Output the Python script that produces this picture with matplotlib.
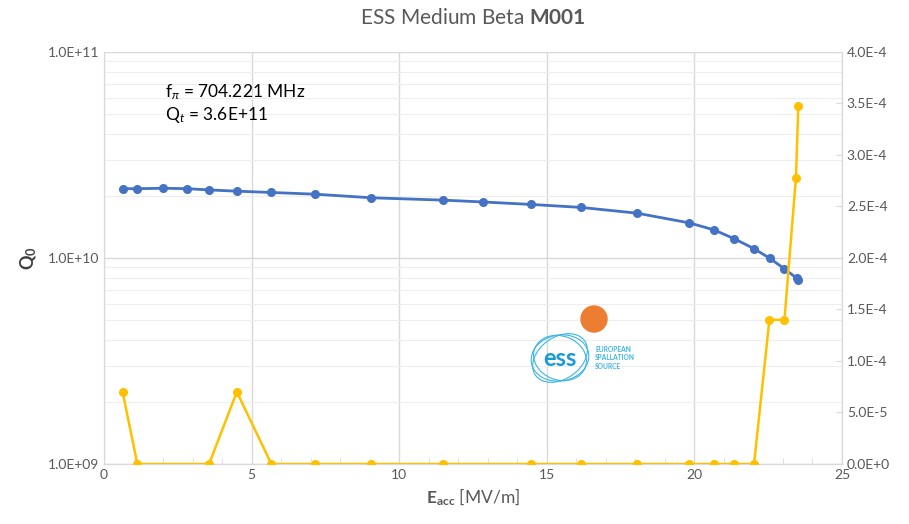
import matplotlib
matplotlib.use("Agg")
import matplotlib.pyplot as plt
import numpy as np
from matplotlib.patches import Circle, Ellipse
from matplotlib.ticker import FixedLocator, FixedFormatter, LogLocator, NullFormatter, MultipleLocator

plt.rcParams['font.family'] = ['Lato', 'DejaVu Sans']
plt.rcParams['mathtext.fontset'] = 'custom'
plt.rcParams['mathtext.rm'] = 'Lato'
plt.rcParams['mathtext.it'] = 'Lato:italic'
plt.rcParams['mathtext.bf'] = 'Lato:bold'

# Q0 vs Eacc
eacc_q0 = [0.63, 1.12, 2.01, 2.82, 3.56, 4.50, 5.67, 7.16, 9.05, 11.47, 12.85,
           14.46, 16.16, 18.06, 19.83, 20.66, 21.35, 22.02, 22.55, 23.04, 23.47, 23.51]
q0 = [2.17e10, 2.17e10, 2.18e10, 2.17e10, 2.14e10, 2.11e10, 2.08e10, 2.04e10, 1.96e10,
      1.91e10, 1.87e10, 1.82e10, 1.76e10, 1.65e10, 1.48e10, 1.37e10, 1.24e10, 1.11e10,
      9.97e9, 8.88e9, 7.97e9, 7.84e9]

# radiation vs Eacc (right axis)
eacc_rad = [0.63, 1.13, 3.56, 4.50, 5.67, 7.16, 9.05, 11.47, 14.46, 16.16, 18.06,
            19.83, 20.66, 21.35, 22.02, 22.54, 23.05, 23.44, 23.52]
rad = [7.0e-5, 0, 0, 7.0e-5, 0, 0, 0, 0, 0, 0, 0, 0, 0, 0, 0, 1.40e-4, 1.40e-4, 2.78e-4, 3.48e-4]

right_ticks = [0, 0.5e-4, 1e-4, 1.5e-4, 2e-4, 2.5e-4, 3e-4, 3.5e-4, 4e-4]
right_labels = ['0.0E+0', '5.0E-5', '1.0E-4', '1.5E-4', '2.0E-4', '2.5E-4', '3.0E-4', '3.5E-4', '4.0E-4']
left_ticks = [1e9, 1e10, 1e11]
left_labels = ['1.0E+09', '1.0E+10', '1.0E+11']

grid_c = '#d9d9d9'
text_c = '#595959'

fig = plt.figure(figsize=(9.09, 5.24), dpi=100)
ax = fig.add_axes([0.1144, 0.1145, 0.8119, 0.7863])
ax2 = ax.twinx()

ax.set_yscale('log')
ax.set_ylim(1e9, 1e11)
ax.set_xlim(0, 25)
ax2.set_ylim(0, 4e-4)

ax.yaxis.set_major_locator(FixedLocator(left_ticks))
ax.yaxis.set_major_formatter(FixedFormatter(left_labels))
ax.yaxis.set_minor_locator(LogLocator(base=10, subs=np.arange(2, 10)))
ax.yaxis.set_minor_formatter(NullFormatter())
ax.xaxis.set_major_locator(MultipleLocator(5))
ax.xaxis.set_minor_locator(MultipleLocator(1))

ax2.yaxis.set_major_locator(FixedLocator(right_ticks))
ax2.yaxis.set_major_formatter(FixedFormatter(right_labels))

ax.grid(True, which='major', color=grid_c, lw=1.0)
ax.grid(True, which='minor', axis='y', color='#eeeeee', lw=0.8)
ax.set_axisbelow(True)

for a in (ax, ax2):
    for s in a.spines.values():
        s.set_color(grid_c)
    a.spines['top'].set_visible(False)
ax.tick_params(axis='both', which='both', colors=grid_c, labelcolor=text_c, labelsize=10)
ax.tick_params(axis='y', which='minor', length=0)
ax.tick_params(axis='x', which='major', length=0)
ax.tick_params(axis='x', which='minor', length=4, direction='in')
ax.tick_params(axis='y', which='major', length=0)
ax2.tick_params(axis='y', colors=grid_c, labelcolor=text_c, labelsize=10, length=4, direction='in')

ax.plot(eacc_q0, q0, color='#4472C4', lw=2, marker='o', ms=5.5, zorder=3)
ax2.plot(eacc_rad, rad, color='#FFC000', lw=1.8, marker='o', ms=5.5, zorder=3)

ax.set_xlabel(r'$\mathbf{E_{acc}}$ [MV/m]', fontsize=12.5, color=text_c, labelpad=4)
ax.set_ylabel(r'Q$_{\mathbf{0}}$', fontsize=13, fontweight='bold', color='#404040', labelpad=6)
ax.set_title(r'ESS Medium Beta $\mathbf{M001}$', fontsize=15, color=text_c, pad=20)

ax.text(0.083, 0.89, r'f$_\pi$ = 704.221 MHz', transform=ax.transAxes, fontsize=12.5, color='black')
ax.text(0.083, 0.835, r'Q$_t$ = 3.6E+11', transform=ax.transAxes, fontsize=12.5, color='black')

# ESS logo
fig.patches.append(Circle((594, 524 - 319), 13, transform=None, color='#ED7D31', zorder=5))
logo_c = '#3cb4e5'
for w, h, ang in [(58, 46, 10), (54, 44, -20), (60, 42, 35)]:
    fig.patches.append(Ellipse((560, 524 - 358), w, h, angle=ang, transform=None,
                               fill=False, ec=logo_c, lw=0.8, zorder=5))
fig.text(560 / 909, 1 - 358 / 524, 'ess', fontsize=17, fontweight='bold', color='#1a9ad6',
         ha='center', va='center', zorder=6)
fig.text(595 / 909, 1 - 358 / 524, 'EUROPEAN\nSPALLATION\nSOURCE', fontsize=4.8,
         fontweight='bold', color=logo_c, ha='left', va='center', linespacing=1.3)

fig.savefig('out.png', dpi=100)
